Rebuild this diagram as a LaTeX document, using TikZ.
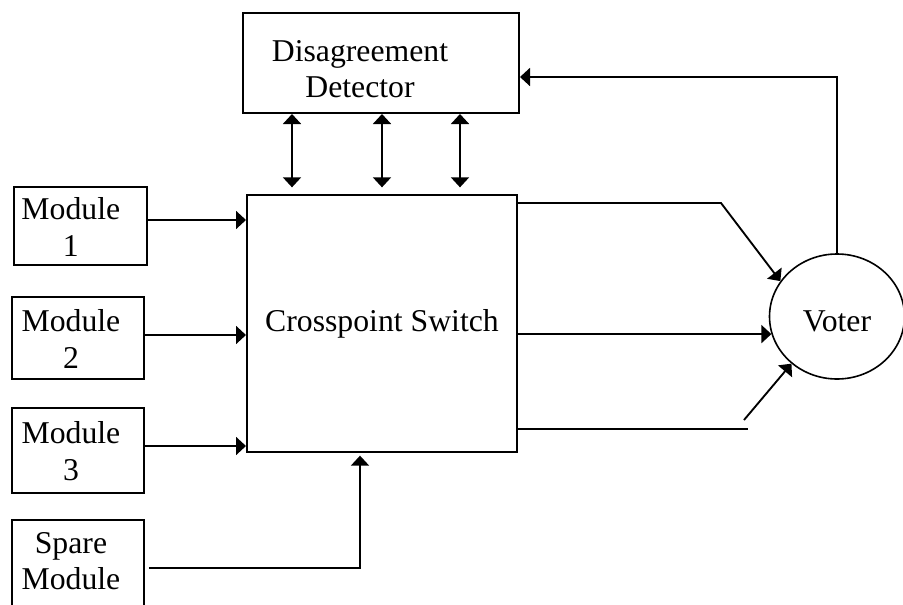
\documentclass[tikz,border=0pt]{standalone}
\usepackage{fontspec}
\setmainfont{Liberation Serif}
\usetikzlibrary{arrows.meta,shapes.geometric}
\begin{document}
\begin{tikzpicture}[x=0.75pt,y=-0.75pt,
  every node/.style={font=\fontsize{23.8}{27.4}\selectfont},
  box/.style={draw, line width=1.5pt, rectangle, inner sep=0pt},
  txt/.style={align=center, inner sep=0pt},
  conn/.style={line width=1.4pt},
  tip/.tip={Triangle[length=7.5pt,width=13.5pt]},
  arr/.style={conn, -tip},
  darr/.style={conn, tip-tip},
]
\useasboundingbox (0,0) rectangle (903,604);
\clip (0,0) rectangle (903,604);

% disagreement detector
\node[box, minimum width=207pt, minimum height=75pt] (det) at (381,63) {};
\node[txt] (dett) at ([xshift=-15.75pt,yshift=-4.65pt]det.center) {Disagreement\\Detector};

% crosspoint switch
\node[box, minimum width=202.5pt, minimum height=192.75pt] (cs) at (382,323.5) {Crosspoint Switch};

% modules
\node[box, minimum width=99.75pt, minimum height=58.5pt] (m1) at (80.4,226.2) {};
\node[txt] (m1t) at ([xshift=-7.2pt,yshift=-0.45pt]m1.center) {Module\\1};
\node[box, minimum width=99pt, minimum height=61.5pt] (m2) at (77.9,338) {};
\node[txt] (m2t) at ([xshift=-5.2pt,yshift=-0.9pt]m2.center) {Module\\2};
\node[box, minimum width=99pt, minimum height=63.75pt] (m3) at (77.9,450.2) {};
\node[txt] (m3t) at ([xshift=-5.2pt,yshift=-0.75pt]m3.center) {Module\\3};
\node[box, minimum width=99pt, minimum height=67.5pt] (sp) at (77.9,565) {};
\node[txt] (spt) at ([xshift=-5.2pt,yshift=3pt]sp.center) {Spare\\Module};

% voter
\node[draw, ellipse, line width=1.2pt, minimum width=101.25pt, minimum height=93.75pt,
      inner sep=0pt, text height=23pt, text depth=0pt] (voter) at (837,316.5) {Voter};

% module inputs
\draw[arr] (m1.east |- 0,220) -- (cs.west |- 0,220);
\draw[arr] (m2.east |- 0,335) -- (cs.west |- 0,335);
\draw[arr] (m3.east |- 0,446) -- (cs.west |- 0,446);
\draw[arr, shorten <=3pt, shorten >=2pt] (sp.east |- 0,568) -| (cs.south -| 360,0);

% detector links
\foreach \x in {292,382,460}
  \draw[darr, shorten >=5pt] (det.south -| \x,0) -- (cs.north -| \x,0);

% switch outputs to the voter
\coordinate (bend) at (721,203);
\draw[arr] (cs.east |- bend) -- (bend) -- (voter.148);
\draw[arr] (cs.east |- voter.195) -- (voter.195);
\coordinate (o3end) at (748,429);
\draw[conn] (cs.east |- o3end) -- (o3end);
\coordinate (o3start) at (744,420);
\draw[arr] (o3start) -- (voter.226);

% feedback from the voter to the detector
\coordinate (fb) at (voter.north |- 0,77);
\draw[arr] (voter.north) -- (fb) -- (det.east |- fb);
\end{tikzpicture}
\end{document}
